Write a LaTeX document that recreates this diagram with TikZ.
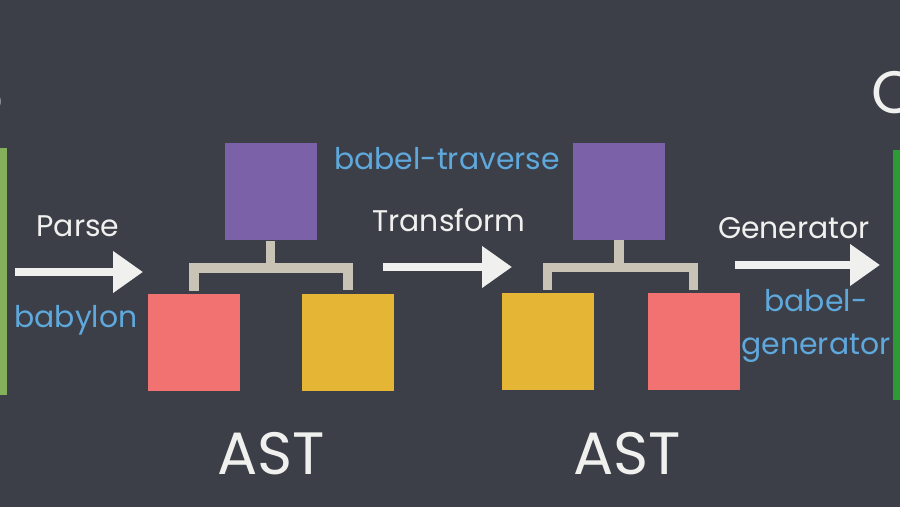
\documentclass[tikz,border=0pt]{standalone}
\usepackage{fontspec}
\usetikzlibrary{arrows.meta,calc}
\newfontfamily\chalkfont{Poppins}

\definecolor{board}{HTML}{3C3F48}
\definecolor{nodepurple}{HTML}{7B62A8}
\definecolor{nodered}{HTML}{F27272}
\definecolor{nodeyellow}{HTML}{E5B535}
\definecolor{chalkgray}{HTML}{C8C3B5}
\definecolor{chalkblue}{HTML}{5FA8DC}
\definecolor{chalkwhite}{HTML}{F0F0EE}
\definecolor{leftgreen}{HTML}{84B05C}
\definecolor{rightgreen}{HTML}{2E9A35}

\tikzset{
    astbox/.style={minimum width=1.84cm, minimum height=1.94cm, inner sep=0pt},
    branch/.style={chalkgray, line width=5.5pt, line join=miter},
    chalkarrow/.style={chalkwhite, line width=4.5pt, -{Triangle[length=0.6cm, width=0.8cm]}},
    steplabel/.style={chalkwhite, font=\chalkfont\fontsize{17}{19}\selectfont},
    toollabel/.style={chalkblue, font=\chalkfont\fontsize{17}{24}\selectfont, align=center},
    biglabel/.style={chalkwhite, font=\chalkfont\fontsize{34}{36}\selectfont}
}

\begin{document}
\begin{tikzpicture}
    % the board
    \clip (0, 0) rectangle (18, 10.14);
    \fill[board] (0, 0) rectangle (18, 10.14);

    % source and output
    \fill[leftgreen] (0, 2.24) rectangle (0.14, 7.18);
    \fill[rightgreen] (17.86, 2.14) rectangle (18, 7.14);
    \node[biglabel, anchor=east, inner sep=0pt] (srctitle) at (0.07, 8.18) {Code};
    \node[biglabel, anchor=west, inner sep=0pt] (outtitle) at (17.42, 8.30) {Code};

    % the two trees
    \node[astbox, fill=nodepurple] (p1) at (5.41, 6.30) {};
    \node[astbox, fill=nodered] (r1) at (3.88, 3.28) {};
    \node[astbox, fill=nodeyellow] (y1) at (6.96, 3.29) {};

    \node[astbox, fill=nodepurple] (p2) at (12.38, 6.31) {};
    \node[astbox, fill=nodeyellow] (y2) at (10.95, 3.30) {};
    \node[astbox, fill=nodered] (r2) at (13.87, 3.30) {};

    \coordinate (j1) at (p1 |- 0, 4.78);
    \coordinate (j2) at (p2 |- 0, 4.79);

    \draw[branch] (p1.south) -- (j1);
    \draw[branch, shorten <=2pt, shorten >=2pt] (r1.north) |- (j1) -| (y1.north);
    \draw[branch] (p2.south) -- (j2);
    \draw[branch, shorten <=2pt, shorten >=2pt] (y2.north) |- (j2) -| (r2.north);

    \node[biglabel] (ast1) at (5.42, 1.06) {AST};
    \node[biglabel] (ast2) at (12.54, 1.06) {AST};

    % arrows
    \coordinate (A) at (0.30, 4.70);
    \coordinate (B) at (2.86, 4.70);
    \coordinate (C) at (7.66, 4.80);
    \coordinate (D) at (10.24, 4.80);
    \coordinate (E) at (14.70, 4.84);
    \coordinate (F) at (17.60, 4.84);

    \draw[chalkarrow] (A) -- (B);
    \draw[chalkarrow] (C) -- (D);
    \draw[chalkarrow] (E) -- (F);

    % labels
    \node[steplabel] (parse) at (1.56, 5.62) {Parse};
    \node[toollabel] (babylon) at (1.52, 3.74) {babylon};
    \node[toollabel] (traverse) at (8.94, 6.96) {babel-traverse};
    \node[steplabel] (transform) at (8.98, 5.74) {Transform};
    \node[steplabel] (generator) at (15.88, 5.58) {Generator};
    \node[toollabel] (babelgen) at (16.32, 3.62) {babel-\\generator};

\end{tikzpicture}
\end{document}
